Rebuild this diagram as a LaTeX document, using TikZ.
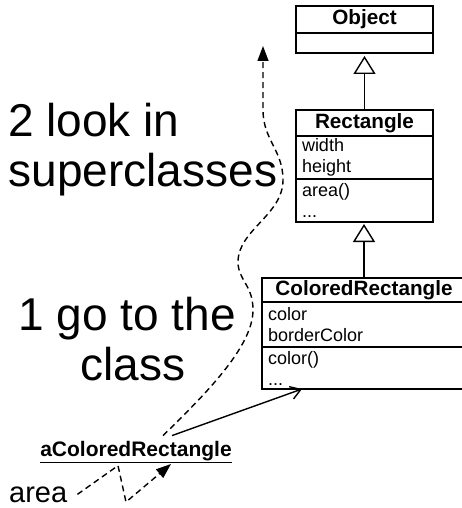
\documentclass[tikz,border=0pt]{standalone}
\usepackage{fontspec}
\setmainfont{Liberation Sans}
\usetikzlibrary{arrows.meta,calc}
\begin{document}
\begin{tikzpicture}[x=1bp,y=-1bp,
  part/.style={draw, line width=1.4bp, inner sep=0pt, outer sep=0pt, anchor=north west},
  ttl/.style={part, font=\fontsize{20.7bp}{24bp}\bfseries\selectfont, align=center},
  body/.style={part, font=\fontsize{18bp}{21bp}\selectfont, align=left, inner xsep=6bp},
  inh/.style={line width=1.4bp, -{Triangle[open, length=18bp, width=22bp, line width=1.4bp]}},
  dsh/.style={line width=1.4bp, dash pattern=on 6bp off 4bp},
  big/.style={font=\fontsize{46bp}{50bp}\selectfont, inner sep=0pt, anchor=base west}
]
\useasboundingbox (0,0) rectangle (462,508);

% Object
\node[ttl, minimum width=137bp, minimum height=27bp] (objT) at (296,6) {Object};
\node[part, minimum width=137bp, minimum height=20bp] (objB) at (objT.south west) {};

% Rectangle
\node[ttl, minimum width=137bp, minimum height=26bp] (rectT) at (296,110) {Rectangle};
\node[body, text width=125bp, minimum height=43bp] (rectA) at (rectT.south west) {width\\height};
\node[body, text width=125bp, minimum height=43bp] (rectM) at (rectA.south west) {area()\\...};

% ColoredRectangle
\node[ttl, minimum width=204bp, minimum height=24bp] (crT) at (262,278) {ColoredRectangle};
\node[body, text width=192bp, minimum height=45bp] (crA) at (crT.south west) {color\\borderColor};
\node[body, text width=192bp, minimum height=42bp] (crM) at (crA.south west) {color()\\...};

% inheritance
\draw[inh, shorten >=3bp] (rectT.north) -- (rectT.north |- objB.south);
\draw[inh, shorten >=2bp] (crT.north) -- (crT.north |- rectM.south);

% big labels
\node[big] (l2a) at (8,137) {2 look in};
\node[big] (l2b) at (8.5,187) {superclasses};
\node[big, anchor=base] (l1a) at (127,330) {1 go to the};
\node[big, anchor=base] (l1b) at (133,380) {class};

% instance
\node[font=\fontsize{21bp}{24bp}\bfseries\selectfont, inner sep=0pt, anchor=base] (acr) at (136,456) {\underline{aColoredRectangle}};
\node[font=\fontsize{29bp}{32bp}\selectfont, inner sep=0pt, anchor=base west] (area) at (9,502) {area};

\coordinate (top) at (263,46);
\coordinate (s1) at ($(acr.north)+(36,-5)$);
\coordinate (s2) at ($(acr.north)+(27,-5)$);
\coordinate (e1) at ($(crM.south west)+(40,0)$);
\coordinate (p1) at ($(acr.south)+(-18,3)$);
\coordinate (p2) at (126,502);
\coordinate (e2) at (171,464);

% go to the class
\draw[line width=1.4bp, -{Straight Barb[length=10bp, width=13bp, line width=1.4bp]}] (s1) -- (e1);

% look in superclasses
\draw[dsh, -{Triangle[length=15bp, width=11bp]}] (s2) .. controls (210,390) and (253,345) .. (253,310)
  .. controls (253,285) and (238,280) .. (238,262)
  .. controls (238,230) and (283,215) .. (283,180)
  .. controls (283,150) and (263,140) .. (263,110) -- (top);

% area message
\draw[dsh, -{Triangle[length=15bp, width=11bp]}] ($(area.east)+(10,0)$) -- (p1) -- (p2) -- (e2);
\end{tikzpicture}
\end{document}
